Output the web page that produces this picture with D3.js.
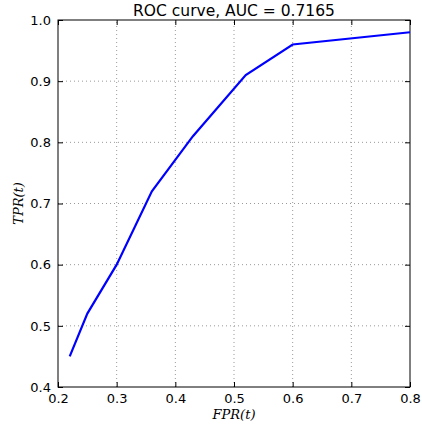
<!DOCTYPE html>
<html>
<head>
<meta charset="utf-8">
<script src="https://cdn.jsdelivr.net/npm/d3@7"></script>
<style>
  body { margin: 0; background: #fff; }
  text { font-family: "DejaVu Sans", sans-serif; }
</style>
</head>
<body>
<script>
const width = 422;
const height = 425;
const margin = {top: 20, right: 12, bottom: 38, left: 58};

// data
const fpr = [0.22, 0.25, 0.30, 0.36, 0.43, 0.52, 0.60, 0.80];
const tpr = [0.45, 0.52, 0.60, 0.72, 0.81, 0.91, 0.96, 0.98];
const xTicks = [0.2, 0.3, 0.4, 0.5, 0.6, 0.7, 0.8];
const yTicks = [0.4, 0.5, 0.6, 0.7, 0.8, 0.9, 1.0];
const title = "ROC curve, AUC = 0.7165";

const svg = d3.select("body").append("svg")
    .attr("width", width)
    .attr("height", height);

const x = d3.scaleLinear().domain([0.2, 0.8]).range([margin.left, width - margin.right]);
const y = d3.scaleLinear().domain([0.4, 1.0]).range([height - margin.bottom, margin.top]);

// grid
svg.append("g").selectAll("line")
    .data(xTicks.slice(1, -1))
    .enter().append("line")
    .attr("x1", d => x(d)).attr("x2", d => x(d))
    .attr("y1", y(0.4)).attr("y2", y(1.0))
    .attr("stroke", "#999").attr("stroke-width", 1)
    .attr("stroke-dasharray", "1,3");
svg.append("g").selectAll("line")
    .data(yTicks.slice(1, -1))
    .enter().append("line")
    .attr("y1", d => y(d)).attr("y2", d => y(d))
    .attr("x1", x(0.2)).attr("x2", x(0.8))
    .attr("stroke", "#999").attr("stroke-width", 1)
    .attr("stroke-dasharray", "1,3");

// axes (ticks point inward, like matplotlib classic)
const fmt = d3.format(".1f");
const axBottom = svg.append("g")
    .attr("transform", `translate(0,${y(0.4)})`)
    .call(d3.axisBottom(x).tickValues(xTicks).tickFormat(fmt).tickSizeInner(-5).tickSizeOuter(0).tickPadding(7));
const axTop = svg.append("g")
    .attr("transform", `translate(0,${y(1.0)})`)
    .call(d3.axisTop(x).tickValues(xTicks).tickFormat("").tickSizeInner(-5).tickSizeOuter(0));
const axLeft = svg.append("g")
    .attr("transform", `translate(${x(0.2)},0)`)
    .call(d3.axisLeft(y).tickValues(yTicks).tickFormat(fmt).tickSizeInner(-5).tickSizeOuter(0).tickPadding(7));
const axRight = svg.append("g")
    .attr("transform", `translate(${x(0.8)},0)`)
    .call(d3.axisRight(y).tickValues(yTicks).tickFormat("").tickSizeInner(-5).tickSizeOuter(0));

[axBottom, axTop, axLeft, axRight].forEach(g => {
    g.select(".domain").remove();
    g.selectAll("line").attr("stroke", "#000");
    g.selectAll("text").attr("font-size", 13).attr("fill", "#000")
        .style("font-family", "DejaVu Sans, sans-serif");
});

// frame
svg.append("rect")
    .attr("x", x(0.2)).attr("y", y(1.0))
    .attr("width", x(0.8) - x(0.2)).attr("height", y(0.4) - y(1.0))
    .attr("fill", "none").attr("stroke", "#000").attr("stroke-width", 1);

// curve
const line = d3.line().x((d, i) => x(fpr[i])).y(d => y(d));
svg.append("path")
    .datum(tpr)
    .attr("d", line)
    .attr("fill", "none")
    .attr("stroke", "#0000ff")
    .attr("stroke-width", 2.2);

// title & labels
svg.append("text")
    .attr("x", (x(0.2) + x(0.8)) / 2).attr("y", 16)
    .attr("text-anchor", "middle")
    .attr("font-size", 15.5)
    .text(title);

svg.append("text")
    .attr("x", (x(0.2) + x(0.8)) / 2).attr("y", 419)
    .attr("text-anchor", "middle")
    .attr("font-size", 13)
    .style("font-family", "DejaVu Serif, serif")
    .style("font-style", "italic")
    .text("FPR(t)");

svg.append("text")
    .attr("transform", `translate(23,${(y(0.4) + y(1.0)) / 2}) rotate(-90)`)
    .attr("text-anchor", "middle")
    .attr("font-size", 13)
    .style("font-family", "DejaVu Serif, serif")
    .style("font-style", "italic")
    .text("TPR(t)");
</script>
</body>
</html>
